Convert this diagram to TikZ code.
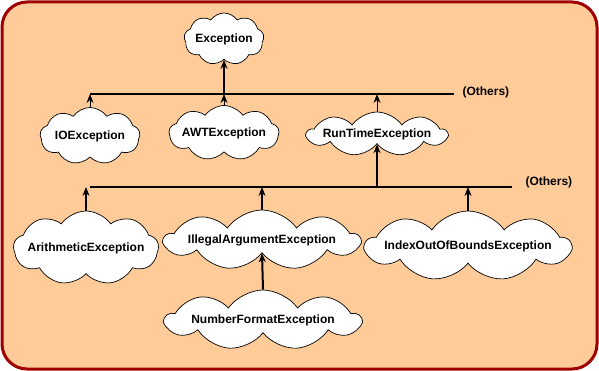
\documentclass[tikz,border=0pt]{standalone}
\usepackage{fontspec}
\setmainfont{Liberation Sans}
\usetikzlibrary{positioning,arrows.meta,shapes.symbols}
\definecolor{cBack}{HTML}{FFCC99}
\definecolor{cRim}{HTML}{A00000}

\begin{document}
\begin{tikzpicture}[x=1pt,y=-1pt,font=\fontsize{12}{14}\selectfont\bfseries,
  cl/.style={cloud,cloud puffs=9,cloud puff arc=110,cloud ignores aspect,draw,
             fill=white,line width=0.7pt,inner xsep=-60pt,inner ysep=-5pt},
  ar/.style={line width=1pt,-{Stealth[length=9pt,width=7pt]}},
  bus/.style={line width=1.2pt}]
\useasboundingbox (0,0) rectangle (599,371);
\draw[cRim,fill=cBack,line width=3pt,rounded corners=25pt] (2,2) rectangle (597,369);
\node[cl,minimum width=80pt,minimum height=52pt] (exc) at (224,39) {Exception};
\node[cl,minimum width=100pt,minimum height=57pt] (io) at (90,136) {IOException};
\node[cl,minimum width=110pt,minimum height=55pt] (awt) at (224,133) {AWTException};
\node[cl,minimum width=140pt,minimum height=44pt] (rte) at (377,134) {RunTimeException};
\node[cl,minimum width=145pt,minimum height=74pt] (arith) at (86,248) {ArithmeticException};
\node[cl,minimum width=195pt,minimum height=60pt] (iae) at (262,240) {IllegalArgumentException};
\node[cl,minimum width=195pt,minimum height=60pt] (nfe) at (263,320) {NumberFormatException};
\node[cl,minimum width=205pt,minimum height=70pt] (ioobe) at (468,246) {IndexOutOfBoundsException};
\coordinate (b1l) at (90,94);
\coordinate (b1r) at (454,94);
\coordinate (b2l) at (90,187);
\coordinate (b2r) at (512,187);
\draw[bus] (b1l) -- (b1r);
\draw[bus] (b2l) -- (b2r);
\node[anchor=west] (oth1) at (459,92) {(Others)};
\node[anchor=west] (oth2) at (522,182) {(Others)};
\foreach \n in {io,awt,rte} \draw[ar] (\n.north) -- (\n.north |- b1l);
\draw[ar,line width=2pt] (exc.south |- b1l) -- (exc.south);
\foreach \n in {arith,iae,ioobe} \draw[ar,line width=1.5pt] (\n.north) -- (\n.north |- b2l);
\draw[ar,line width=1.5pt] (rte.south |- b2l) -- (rte.south);
\draw[ar,line width=2pt] (nfe.north) -- (iae.south);
\end{tikzpicture}
\end{document}
